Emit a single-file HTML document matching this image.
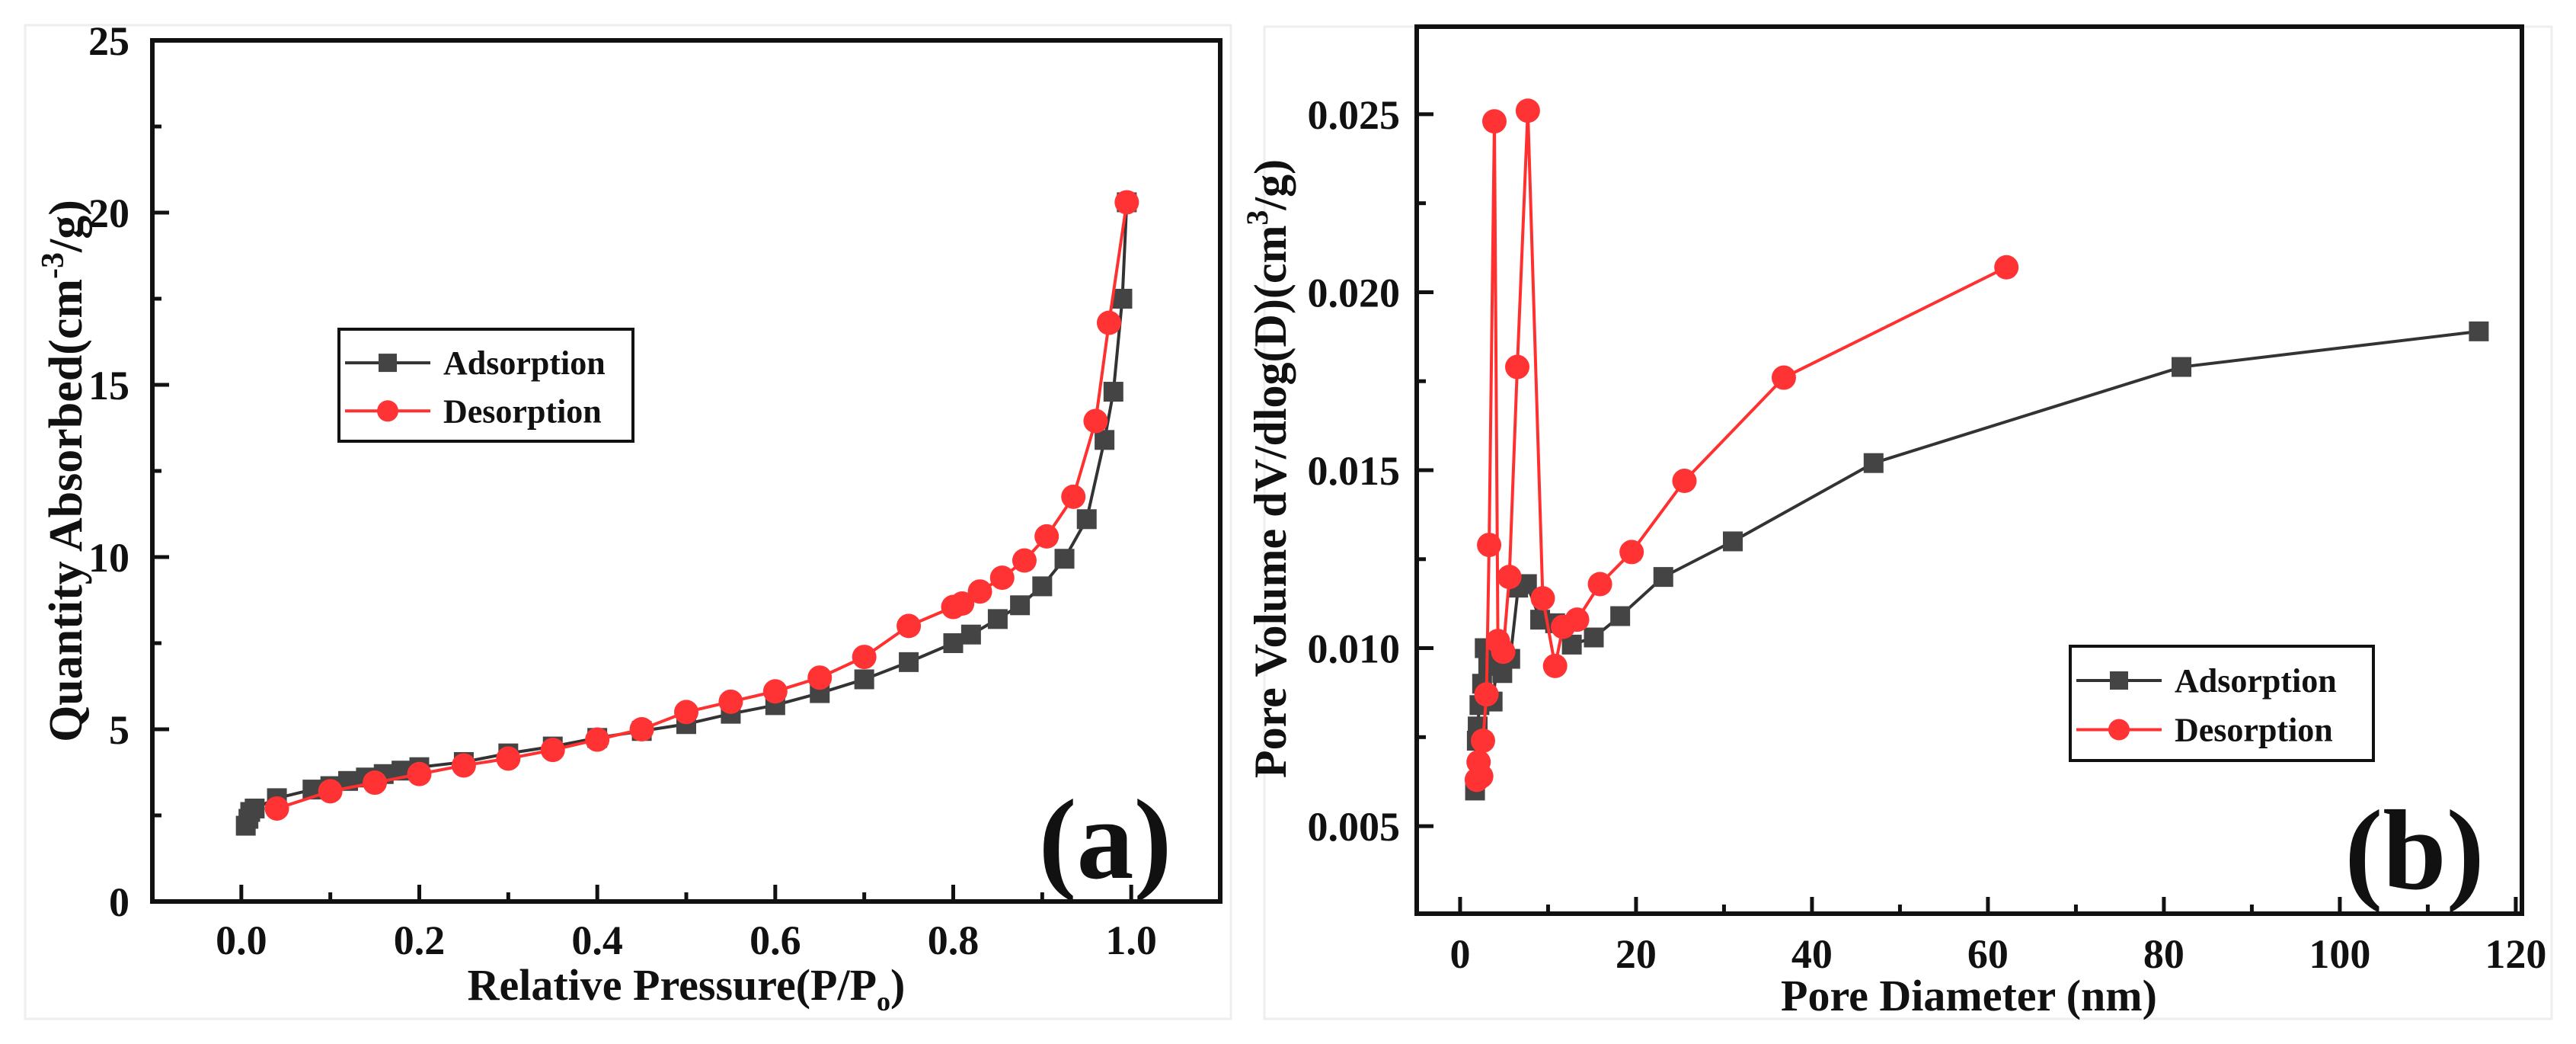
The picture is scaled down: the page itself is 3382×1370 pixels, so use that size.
<!DOCTYPE html>
<html><head><meta charset="utf-8"><style>
html,body{margin:0;padding:0;background:#fff}
svg{display:block}
text{font-family:"Liberation Serif",serif;font-weight:bold;fill:#111}
</style></head><body>
<svg id="fig" width="3382" height="1370" viewBox="0 0 3382 1370" xmlns="http://www.w3.org/2000/svg">
<rect x="33" y="33" width="1583" height="1304" fill="none" stroke="#eee" stroke-width="3"/>
<rect x="1660" y="35" width="1690" height="1302" fill="none" stroke="#eee" stroke-width="3"/>
<g id="pa"></g>
<g id="pb"></g>
</svg>
<script>
const aAdsX=[0.005,0.008,0.01,0.015,0.04,0.08,0.1,0.12,0.14,0.16,0.18,0.2,0.25,0.3,0.35,0.4,0.45,0.5,0.55,0.6,0.65,0.7,0.75,0.8,0.82,0.85,0.875,0.9,0.925,0.95,0.97,0.98,0.99,0.995];
const aAdsY=[2.2,2.4,2.6,2.7,3.0,3.25,3.35,3.5,3.6,3.7,3.8,3.9,4.05,4.3,4.5,4.75,4.95,5.15,5.45,5.7,6.05,6.45,6.95,7.5,7.75,8.2,8.6,9.15,9.95,11.1,13.4,14.8,17.5,20.3];
const aDesX=[0.04,0.1,0.15,0.2,0.25,0.3,0.35,0.4,0.45,0.5,0.55,0.6,0.65,0.7,0.75,0.8,0.81,0.83,0.855,0.88,0.905,0.935,0.96,0.975,0.995];
const aDesY=[2.7,3.2,3.45,3.7,3.95,4.15,4.4,4.7,5.0,5.5,5.8,6.1,6.5,7.1,8.0,8.55,8.65,9.0,9.4,9.9,10.6,11.75,13.95,16.8,20.3];
const aXTicks=[0,0.2,0.4,0.6,0.8,1.0];
const aXLabels=["0.0","0.2","0.4","0.6","0.8","1.0"];
const aYTicks=[0,5,10,15,20,25];
const aYLabels=["0","5","10","15","20","25"];

const bAdsX=[1.7,1.9,2.0,2.2,2.5,2.8,3.2,3.7,4.3,4.8,5.7,6.6,7.6,9.1,10.8,12.7,15.2,18.2,23.1,31,47,82,115.8];
const bAdsY=[0.006,0.0074,0.0078,0.0084,0.009,0.010,0.0095,0.0085,0.0097,0.0093,0.0097,0.0117,0.0118,0.0108,0.0107,0.0101,0.0103,0.0109,0.0120,0.0130,0.0152,0.0179,0.0189];
const bDesX=[1.9,2.1,2.4,2.6,3.0,3.3,3.9,4.3,4.9,5.6,6.5,7.7,9.4,10.8,11.7,13.3,15.9,19.5,25.5,36.8,62.1];
const bDesY=[0.0063,0.0068,0.0064,0.0074,0.0087,0.0129,0.0248,0.0102,0.0099,0.0120,0.0179,0.0251,0.0114,0.0095,0.0106,0.0108,0.0118,0.0127,0.0147,0.0176,0.0207];
const bXTicks=[0,20,40,60,80,100,120];
const bXLabels=["0","20","40","60","80","100","120"];
const bYTicks=[0.005,0.010,0.015,0.020,0.025];
const bYLabels=["0.005","0.010","0.015","0.020","0.025"];

const NS="http://www.w3.org/2000/svg";
function mk(p,tag,at,txt){const e=document.createElementNS(NS,tag);for(const k in at)e.setAttribute(k,at[k]);if(txt!==undefined)e.textContent=txt;p.appendChild(e);return e;}

function chart(g,o){
  const sx=v=>o.x0+(v-o.xmin)/(o.xmax-o.xmin)*(o.x1-o.x0);
  const sy=v=>o.y1-(v-o.ymin)/(o.ymax-o.ymin)*(o.y1-o.y0);
  const fr=mk(g,'rect',{x:o.x0,y:o.y0,width:o.x1-o.x0,height:o.y1-o.y0,fill:'none',stroke:'#111','stroke-width':6});
  
  
  o.xt.forEach((v,i)=>{
    const t=mk(g,'line',{x1:sx(v),x2:sx(v),y1:o.y1,y2:o.y1-22,stroke:'#111','stroke-width':5});
    
    
    const l=mk(g,'text',{x:sx(v),y:o.xly,'text-anchor':'middle','font-size':o.fs},o.xl[i]);
    
    
    if(i<o.xt.length-1){const m=(v+o.xt[i+1])/2;
      const mt=mk(g,'line',{x1:sx(m),x2:sx(m),y1:o.y1,y2:o.y1-12,stroke:'#111','stroke-width':5});
      
      }
  });
  o.yt.forEach((v,i)=>{
    const t=mk(g,'line',{x1:o.x0,x2:o.x0+22,y1:sy(v),y2:sy(v),stroke:'#111','stroke-width':5});
    
    
    const l=mk(g,'text',{x:o.ylx,y:sy(v)+19,'text-anchor':'end','font-size':o.fs},o.yl[i]);
    
    
    const m=v+o.ystep/2;
    if(m<o.ymax){const mt=mk(g,'line',{x1:o.x0,x2:o.x0+12,y1:sy(m),y2:sy(m),stroke:'#111','stroke-width':5});
      
      }
  });
  function series(xs,ys,col,mcol,shape,name){
    const pts=xs.map((x,i)=>sx(x)+','+sy(ys[i])).join(' ');
    const pl=mk(g,'polyline',{points:pts,fill:'none',stroke:col,'stroke-width':4});
    
    
    xs.forEach((x,i)=>{
      let m;
      if(shape==='sq') m=mk(g,'rect',{x:sx(x)-13,y:sy(ys[i])-13,width:26,height:26,fill:mcol});
      else m=mk(g,'circle',{cx:sx(x),cy:sy(ys[i]),r:16,fill:mcol});
      
      
    });
  }
  series(o.ax,o.ay,'#333','#444','sq','adsorption');
  series(o.dx,o.dy,'#ff3030','#ff3333','ci','desorption');
  // legend
  const L=o.leg;
  const lb=mk(g,'rect',{x:L.x,y:L.y,width:L.w,height:L.h,fill:'#fff',stroke:'#111','stroke-width':4});
  
  
  const rows=[['Adsorption','#333','#444','sq'],['Desorption','#ff3030','#ff3333','ci']];
  rows.forEach((r,i)=>{
    const yy=L.y+L.h*(i===0?0.3:0.73);
    const ln=mk(g,'line',{x1:L.x+8,x2:L.x+120,y1:yy,y2:yy,stroke:r[1],'stroke-width':4});
    
    
    let m;
    if(r[3]==='sq') m=mk(g,'rect',{x:L.x+64-12,y:yy-12,width:24,height:24,fill:r[2]});
    else m=mk(g,'circle',{cx:L.x+64,cy:yy,r:14,fill:r[2]});
    
    
    const t=mk(g,'text',{x:L.x+137,y:yy+15,'font-size':44},r[0]);
    
    
  });
}

chart(document.getElementById('pa'),{x0:200,x1:1602,y0:53,y1:1183,xmin:-0.1,xmax:1.1,ymin:0,ymax:25,ystep:5,
  xt:aXTicks,xl:aXLabels,yt:aYTicks,yl:aYLabels,xly:1252,ylx:170,fs:54,
  ax:aAdsX,ay:aAdsY,dx:aDesX,dy:aDesY,leg:{x:445,y:432,w:386,h:147}});
chart(document.getElementById('pb'),{x0:1860,x1:3311,y0:35,y1:1199,xmin:-4.93,xmax:120.7,ymin:0.00254,ymax:0.02746,ystep:0.005,
  xt:bXTicks,xl:bXLabels,yt:bYTicks,yl:bYLabels,xly:1270,ylx:1838,fs:54,
  ax:bAdsX,ay:bAdsY,dx:bDesX,dy:bDesY,leg:{x:2718,y:848,w:398,h:150}});
</script>
<svg width="0" height="0" style="position:absolute"></svg>
<script>
const svg=document.getElementById('fig');
function T(at,html,name){const e=document.createElementNS(NS,'text');for(const k in at)e.setAttribute(k,at[k]);e.innerHTML=html;svg.appendChild(e);

return e;}
T({x:0,y:0,transform:'translate(107,618) rotate(-90)','text-anchor':'middle','font-size':62},'Quantity Absorbed(cm<tspan dy="-24" font-size="42">-3</tspan><tspan dy="24">/g)</tspan>','y-axis-title-a');
T({x:901,y:1312,'text-anchor':'middle','font-size':58},'Relative Pressure(P/P<tspan dy="14" font-size="36">o</tspan><tspan dy="-14">)</tspan>','x-axis-title-a');
T({x:1451,y:1152,'text-anchor':'middle','font-size':150},'(a)','panel-label-a');
T({x:0,y:0,transform:'translate(1688,615) rotate(-90)','text-anchor':'middle','font-size':60},'Pore Volume dV/dlog(D)(cm<tspan dy="-24" font-size="40">3</tspan><tspan dy="24">/g)</tspan>','y-axis-title-b');
T({x:2585,y:1326,'text-anchor':'middle','font-size':58},'Pore Diameter (nm)','x-axis-title-b');
T({x:3170,y:1166,'text-anchor':'middle','font-size':150},'(b)','panel-label-b');
</script>
</body></html>
